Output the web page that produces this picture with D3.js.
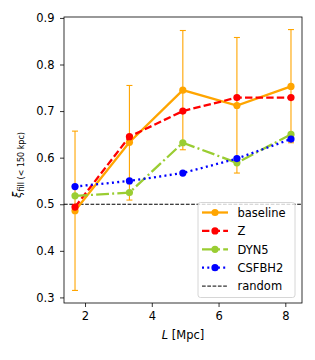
<!DOCTYPE html>
<html>
<head>
<meta charset="utf-8">
<script src="https://cdn.jsdelivr.net/npm/d3@7"></script>
<style>
  body { margin: 0; background: #fff; }
  svg { font-family: "DejaVu Sans", sans-serif; }
</style>
</head>
<body>
<div id="chart"></div>
<script>
// Separation L [Mpc] of each bin
const L = [1.7, 3.33, 4.93, 6.55, 8.17];
const baseline = [0.486, 0.633, 0.745, 0.712, 0.753];
const baselineLo = [0.315, 0.509, 0.617, 0.567, 0.632];
const baselineHi = [0.657, 0.755, 0.873, 0.858, 0.875];
const zRun = [0.494, 0.645, 0.700, 0.729, 0.729];
const dyn5 = [0.518, 0.525, 0.632, 0.589, 0.650];
const csfbh2 = [0.538, 0.550, 0.567, 0.598, 0.640];
const randomLevel = 0.5;
const xTicks = [2, 4, 6, 8];
const yTicks = [0.3, 0.4, 0.5, 0.6, 0.7, 0.8, 0.9];

const W = 315, H = 360;
const margin = { left: 64, right: 13, top: 17, bottom: 57 };
const width = W - margin.left - margin.right;
const height = H - margin.top - margin.bottom;
const fs = 11.5;

const svg = d3.select('#chart').append('svg')
  .attr('width', W).attr('height', H);
const g = svg.append('g')
  .attr('transform', 'translate(' + margin.left + ',' + margin.top + ')');

const x = d3.scaleLinear().domain([1.37, 8.5]).range([0, width]);
const y = d3.scaleLinear().domain([0.288, 0.902]).range([height, 0]);

// series definitions (style only)
const series = [
  { name: 'baseline', values: baseline, color: '#FFA500', dash: null },
  { name: 'Z', values: zRun, color: '#FF0000', dash: '7.4,3.2' },
  { name: 'DYN5', values: dyn5, color: '#9ACD32', dash: '12.8,3.2,2,3.2' },
  { name: 'CSFBH2', values: csfbh2, color: '#0000FF', dash: '2,3.3' },
];

// random reference line
g.append('line')
  .attr('x1', 0).attr('x2', width)
  .attr('y1', y(randomLevel)).attr('y2', y(randomLevel))
  .attr('stroke', '#000').attr('stroke-width', 1)
  .attr('stroke-dasharray', '3.7,1.6');

// error bars for baseline
const eb = g.append('g').attr('stroke', '#FFA500').attr('stroke-width', 1.1);
L.forEach((l, i) => {
  eb.append('line').attr('x1', x(l)).attr('x2', x(l))
    .attr('y1', y(baselineLo[i])).attr('y2', y(baselineHi[i]));
  [baselineLo[i], baselineHi[i]].forEach(v => {
    eb.append('line').attr('x1', x(l) - 3).attr('x2', x(l) + 3)
      .attr('y1', y(v)).attr('y2', y(v));
  });
});

const line = d3.line().x((d, i) => x(L[i])).y(d => y(d));
series.forEach(s => {
  g.append('path').datum(s.values)
    .attr('d', line)
    .attr('fill', 'none')
    .attr('stroke', s.color)
    .attr('stroke-width', 2.3)
    .attr('stroke-dasharray', s.dash);
  g.append('g').selectAll('circle')
    .data(s.values).join('circle')
    .attr('cx', (d, i) => x(L[i]))
    .attr('cy', d => y(d))
    .attr('r', 3.6)
    .attr('fill', s.color);
});

// axes
const xAxis = g.append('g')
  .attr('transform', 'translate(0,' + height + ')')
  .call(d3.axisBottom(x).tickValues(xTicks).tickFormat(d3.format('d')).tickSize(4).tickPadding(4.5).tickSizeOuter(0));
const yAxis = g.append('g')
  .call(d3.axisLeft(y).tickValues(yTicks).tickFormat(d3.format('.1f')).tickSize(4).tickPadding(5.5).tickSizeOuter(0));
[xAxis, yAxis].forEach(a => {
  a.selectAll('text').attr('font-size', fs).attr('fill', '#000').attr('font-family', '"DejaVu Sans", sans-serif');
  a.selectAll('line').attr('stroke', '#000').attr('stroke-width', 0.8);
  a.select('.domain').remove();
});

// frame
g.append('rect')
  .attr('width', width).attr('height', height)
  .attr('fill', 'none').attr('stroke', '#000').attr('stroke-width', 0.8);

// axis labels
svg.append('text')
  .attr('x', 183).attr('y', 339)
  .attr('text-anchor', 'middle').attr('font-size', fs)
  .html('<tspan font-style="italic">L</tspan> [Mpc]');

const yl = svg.append('text')
  .attr('transform', 'translate(21,165) rotate(-90)')
  .attr('text-anchor', 'middle').attr('font-size', fs);
yl.append('tspan').attr('font-style', 'italic').text('ξ');
yl.append('tspan').attr('font-size', 8).attr('dy', 2.5).text('fill (< 150 kpc)');

// legend
const legendItems = series.map(s => ({ name: s.name, color: s.color, dash: s.dash, marker: true }))
  .concat([{ name: 'random', color: '#000', dash: '3.7,1.6', marker: false }]);
const lg = svg.append('g').attr('transform', 'translate(198,202.5)');
lg.append('rect')
  .attr('width', 97).attr('height', 95)
  .attr('rx', 2.5)
  .attr('fill', 'rgba(255,255,255,0.8)')
  .attr('stroke', '#cccccc').attr('stroke-width', 0.8);
legendItems.forEach((d, i) => {
  const yy = 10 + i * 18.4;
  lg.append('line')
    .attr('x1', 4).attr('x2', 30)
    .attr('y1', yy).attr('y2', yy)
    .attr('stroke', d.color)
    .attr('stroke-width', d.marker ? 2.3 : 1)
    .attr('stroke-dasharray', d.dash);
  if (d.marker) {
    lg.append('circle').attr('cx', 17).attr('cy', yy).attr('r', 3.6).attr('fill', d.color);
  }
  lg.append('text')
    .attr('x', 39.5).attr('y', yy + 4.2)
    .attr('font-size', fs)
    .text(d.name);
});
</script>
</body>
</html>
